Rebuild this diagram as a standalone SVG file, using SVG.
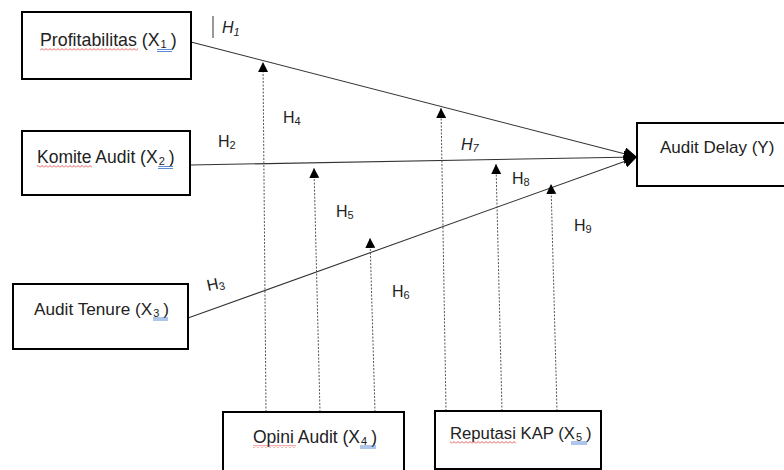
<svg xmlns="http://www.w3.org/2000/svg" width="784" height="470" viewBox="0 0 784 470">
<style>
.box{fill:#fff;stroke:#000;stroke-width:2}
.lbl{font-family:"Liberation Sans",Arial,sans-serif;font-size:17.5px;fill:#222}
.h{font-family:"Liberation Sans",Arial,sans-serif;font-size:16px;fill:#222}
.sub{font-size:11px}
.main{stroke:#333;stroke-width:1.1;fill:none}
.dot{stroke:#555;stroke-width:1;stroke-dasharray:2 1.5;fill:none}
.blue{stroke:#4a7fd0;stroke-width:0.9}
</style>
<defs>
<marker id="ah" viewBox="0 0 12 12" refX="12" refY="6" markerWidth="13" markerHeight="13" markerUnits="userSpaceOnUse" orient="auto">
<path d="M0 0 L12 6 L0 12 Z" fill="#000"/>
</marker>
<marker id="up" viewBox="0 0 10 12" refX="10" refY="5" markerWidth="10" markerHeight="12" markerUnits="userSpaceOnUse" orient="auto">
<path d="M0 0 L10 5 L0 10 Z" fill="#000"/>
</marker>
<pattern id="wave" width="4" height="3" patternUnits="userSpaceOnUse">
<path d="M0 2.5 L2 0.5 L4 2.5" stroke="#e03030" stroke-width="0.8" fill="none"/>
</pattern>
</defs>

<g id="connectors">
<line class="main" x1="191" y1="42" x2="637" y2="157" marker-end="url(#ah)"/>
<line class="main" x1="190" y1="165" x2="637" y2="157" marker-end="url(#ah)"/>
<line class="main" x1="188" y1="318" x2="637" y2="157" marker-end="url(#ah)"/>
<line class="dot" x1="266" y1="412" x2="263" y2="62" marker-end="url(#up)"/>
<line class="dot" x1="320" y1="412" x2="314" y2="168" marker-end="url(#up)"/>
<line class="dot" x1="375" y1="412" x2="370" y2="238" marker-end="url(#up)"/>
<line class="dot" x1="446" y1="411" x2="441" y2="108" marker-end="url(#up)"/>
<line class="dot" x1="502" y1="411" x2="496" y2="164" marker-end="url(#up)"/>
<line class="dot" x1="557" y1="411" x2="551" y2="184" marker-end="url(#up)"/>
</g>

<g id="labels">
<line x1="213" y1="16" x2="213" y2="38" stroke="#333" stroke-width="1"/>
<text class="h" x="222" y="33" font-style="italic">H<tspan class="sub" dy="3">1</tspan></text>
<text class="h" x="218" y="147">H<tspan class="sub" dy="2">2</tspan></text>
<text class="h" x="208" y="291" transform="rotate(-12 208 291)">H<tspan class="sub" dy="2">3</tspan></text>
<text class="h" x="283" y="123">H<tspan class="sub" dy="2">4</tspan></text>
<text class="h" x="336" y="217">H<tspan class="sub" dy="2">5</tspan></text>
<text class="h" x="392" y="297">H<tspan class="sub" dy="2">6</tspan></text>
<text class="h" x="461" y="150" font-style="italic">H<tspan class="sub" dy="2">7</tspan></text>
<text class="h" x="512" y="184">H<tspan class="sub" dy="2">8</tspan></text>
<text class="h" x="574" y="231">H<tspan class="sub" dy="2">9</tspan></text>
</g>

<g id="profitabilitas">
<rect class="box" x="22" y="12" width="169" height="67"/>
<text class="lbl" x="40" y="46" style="font-size:17.8px">Profitabilitas (X<tspan class="sub" dx="1" dy="2">1</tspan><tspan dx="4" dy="-2">)</tspan></text>
<rect x="40" y="48" width="98" height="3" fill="url(#wave)"/>
<line class="blue" x1="157" y1="49.5" x2="172" y2="49.5"/>
<line class="blue" x1="157" y1="51.5" x2="172" y2="51.5"/>
</g>

<g id="komite">
<rect class="box" x="22" y="131" width="168" height="64"/>
<text class="lbl" x="37" y="163">Komite Audit (X<tspan class="sub" dx="1" dy="2">2</tspan><tspan dx="4" dy="-2">)</tspan></text>
<rect x="37" y="165" width="55" height="3" fill="url(#wave)"/>
<line class="blue" x1="158" y1="166.5" x2="173" y2="166.5"/>
<line class="blue" x1="158" y1="168.5" x2="173" y2="168.5"/>
</g>

<g id="tenure">
<rect class="box" x="13" y="284" width="175" height="65"/>
<text class="lbl" x="34" y="315" style="font-size:17.2px">Audit Tenure (X<tspan class="sub" dx="1" dy="2">3</tspan><tspan dx="4" dy="-2">)</tspan></text>
<line class="blue" x1="153" y1="318" x2="168" y2="318"/>
<line class="blue" x1="153" y1="320" x2="168" y2="320"/>
</g>

<g id="opini">
<rect class="box" x="223" y="412" width="181" height="70"/>
<text class="lbl" x="253" y="443">Opini Audit (X<tspan class="sub" dx="1" dy="2">4</tspan><tspan dx="4" dy="-2">)</tspan></text>
<rect x="253" y="445" width="43" height="3" fill="url(#wave)"/>
<line class="blue" x1="360" y1="446" x2="376" y2="446"/>
<line class="blue" x1="360" y1="448" x2="376" y2="448"/>
</g>

<g id="reputasi">
<rect class="box" x="435" y="411" width="166" height="58"/>
<text class="lbl" x="450" y="439" style="font-size:16.7px">Reputasi KAP (X<tspan class="sub" dx="1" dy="2">5</tspan><tspan dx="4" dy="-2">)</tspan></text>
<rect x="450" y="441" width="66" height="3" fill="url(#wave)"/>
<line class="blue" x1="571" y1="442" x2="587" y2="442"/>
<line class="blue" x1="571" y1="444" x2="587" y2="444"/>
</g>

<g id="auditdelay">
<rect class="box" x="637" y="123" width="152" height="63"/>
<text class="lbl" x="660" y="153" style="font-size:17px">Audit Delay (Y)</text>
</g>
</svg>
